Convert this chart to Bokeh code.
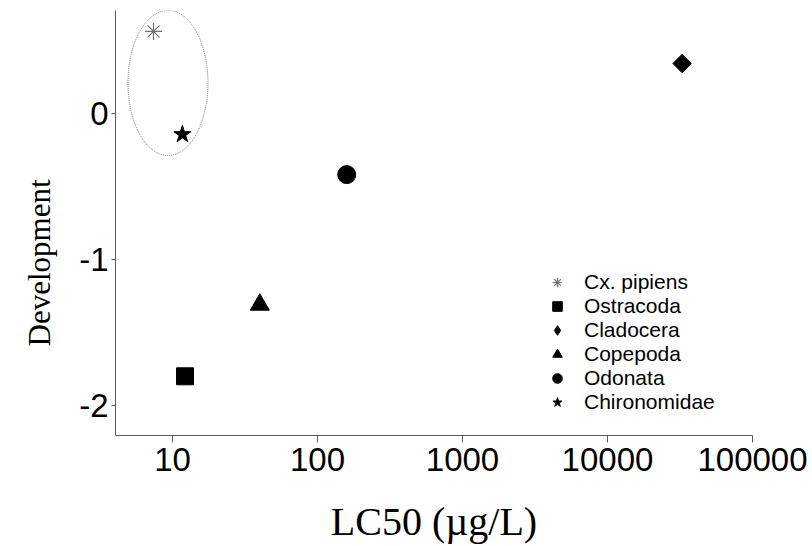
import numpy as np
from bokeh.plotting import figure
from bokeh.models import FixedTicker, Title, LegendItem, Legend
from bokeh.embed import file_html
from bokeh.resources import INLINE

# Sensitivity (LC50) against development response for each taxon
species = ["Cx. pipiens", "Ostracoda", "Cladocera", "Copepoda", "Odonata", "Chironomidae"]
lc50 = [7.4, 12.2, 32700, 40.0, 159, 11.7]
development = [0.56, -1.80, 0.34, -1.31, -0.42, -0.145]

x_ticks = [10, 100, 1000, 10000, 100000]
x_tick_labels = ["10", "100", "1000", "10000", "100000"]
y_ticks = [-2, -1, 0]
y_tick_labels = ["-2", "-1", "0"]

# taxa circled together on the chart
grouped = ["Cx. pipiens", "Chironomidae"]

# marker styling per taxon
styles = {
    "Cx. pipiens": dict(marker="asterisk", size=17, line_color="#707070", fill_color=None, line_width=1.2),
    "Ostracoda": dict(marker="square", size=17, color="black"),
    "Cladocera": dict(marker="square", size=13, angle=np.pi / 4, color="black"),
    "Copepoda": dict(marker="triangle", size=19, color="black"),
    "Odonata": dict(marker="circle", size=18, color="black"),
    "Chironomidae": dict(marker="star", size=18, color="black"),
}
# the legend cannot rotate a square, so it uses the diamond marker instead
legend_marker = {"Cladocera": "diamond"}

p = figure(
    width=812, height=546,
    x_axis_type="log",
    x_range=(4.045, 100000), y_range=(-2.205, 0.703),
    output_backend="svg", toolbar_location=None,
    min_border_left=115, min_border_right=60,
    min_border_top=10, min_border_bottom=110,
)
p.background_fill_color = "white"
p.border_fill_color = "white"
p.outline_line_color = None
p.grid.visible = False

items = []
for name, x, y in zip(species, lc50, development):
    r = p.scatter(x=[x], y=[y], **styles[name])
    if name in legend_marker:
        st = dict(styles[name])
        st.pop("angle", None)
        st["marker"] = legend_marker[name]
        proxy = p.scatter(x=[np.nan], y=[np.nan], **st)
        items.append(LegendItem(label=name, renderers=[proxy]))
    else:
        items.append(LegendItem(label=name, renderers=[r]))

# dotted ellipse around the grouped taxa
gx = [lc50[species.index(n)] for n in grouped]
gy = [development[species.index(n)] for n in grouped]
p.ellipse(
    x=[float(np.exp(np.mean(np.log(gx))))], y=[float(np.mean(gy))],
    width=80, height=145, width_units="screen", height_units="screen",
    fill_color=None, line_color="#777777", line_width=1, line_dash="1 1",
)

axis_color = "#5a5a5a"
for ax in (p.xaxis[0], p.yaxis[0]):
    ax.axis_line_color = axis_color
    ax.major_tick_line_color = axis_color
    ax.minor_tick_line_color = None
    ax.major_tick_in = 0
    ax.major_label_text_font = "Liberation Sans"
    ax.major_label_text_font_size = "33px"
    ax.major_label_text_color = "black"

xa = p.xaxis[0]
xa.ticker = FixedTicker(ticks=x_ticks)
xa.major_label_overrides = {t: s for t, s in zip(x_ticks, x_tick_labels)}
xa.major_tick_out = 7
xa.major_label_standoff = 5
xa.axis_label = "LC50 (\u00b5g/L)"
xa.axis_label_text_font = "Liberation Serif"
xa.axis_label_text_font_size = "40px"
xa.axis_label_text_font_style = "normal"
xa.axis_label_text_color = "black"
xa.axis_label_standoff = 25

ya = p.yaxis[0]
ya.ticker = FixedTicker(ticks=y_ticks)
ya.major_label_overrides = {t: s for t, s in zip(y_ticks, y_tick_labels)}
ya.major_tick_out = 4
ya.major_label_standoff = 3

ytitle = Title(
    text="Development", align="left", offset=89, vertical_align="middle",
    text_font="Liberation Serif", text_font_size="31px",
    text_font_style="normal", text_color="black", standoff=37,
)
p.add_layout(ytitle, "left")

leg = Legend(items=items)
p.add_layout(leg)
leg.location = (430, 21)
leg.glyph_width = 24
leg.glyph_height = 24
leg.label_height = 20
leg.spacing = 0
leg.label_standoff = 15
leg.padding = 0
leg.margin = 0
leg.border_line_color = None
leg.background_fill_alpha = 0
leg.label_text_font = "Liberation Sans"
leg.label_text_font_size = "21px"
leg.label_text_color = "black"

open("out.html", "w").write(file_html(p, INLINE))
